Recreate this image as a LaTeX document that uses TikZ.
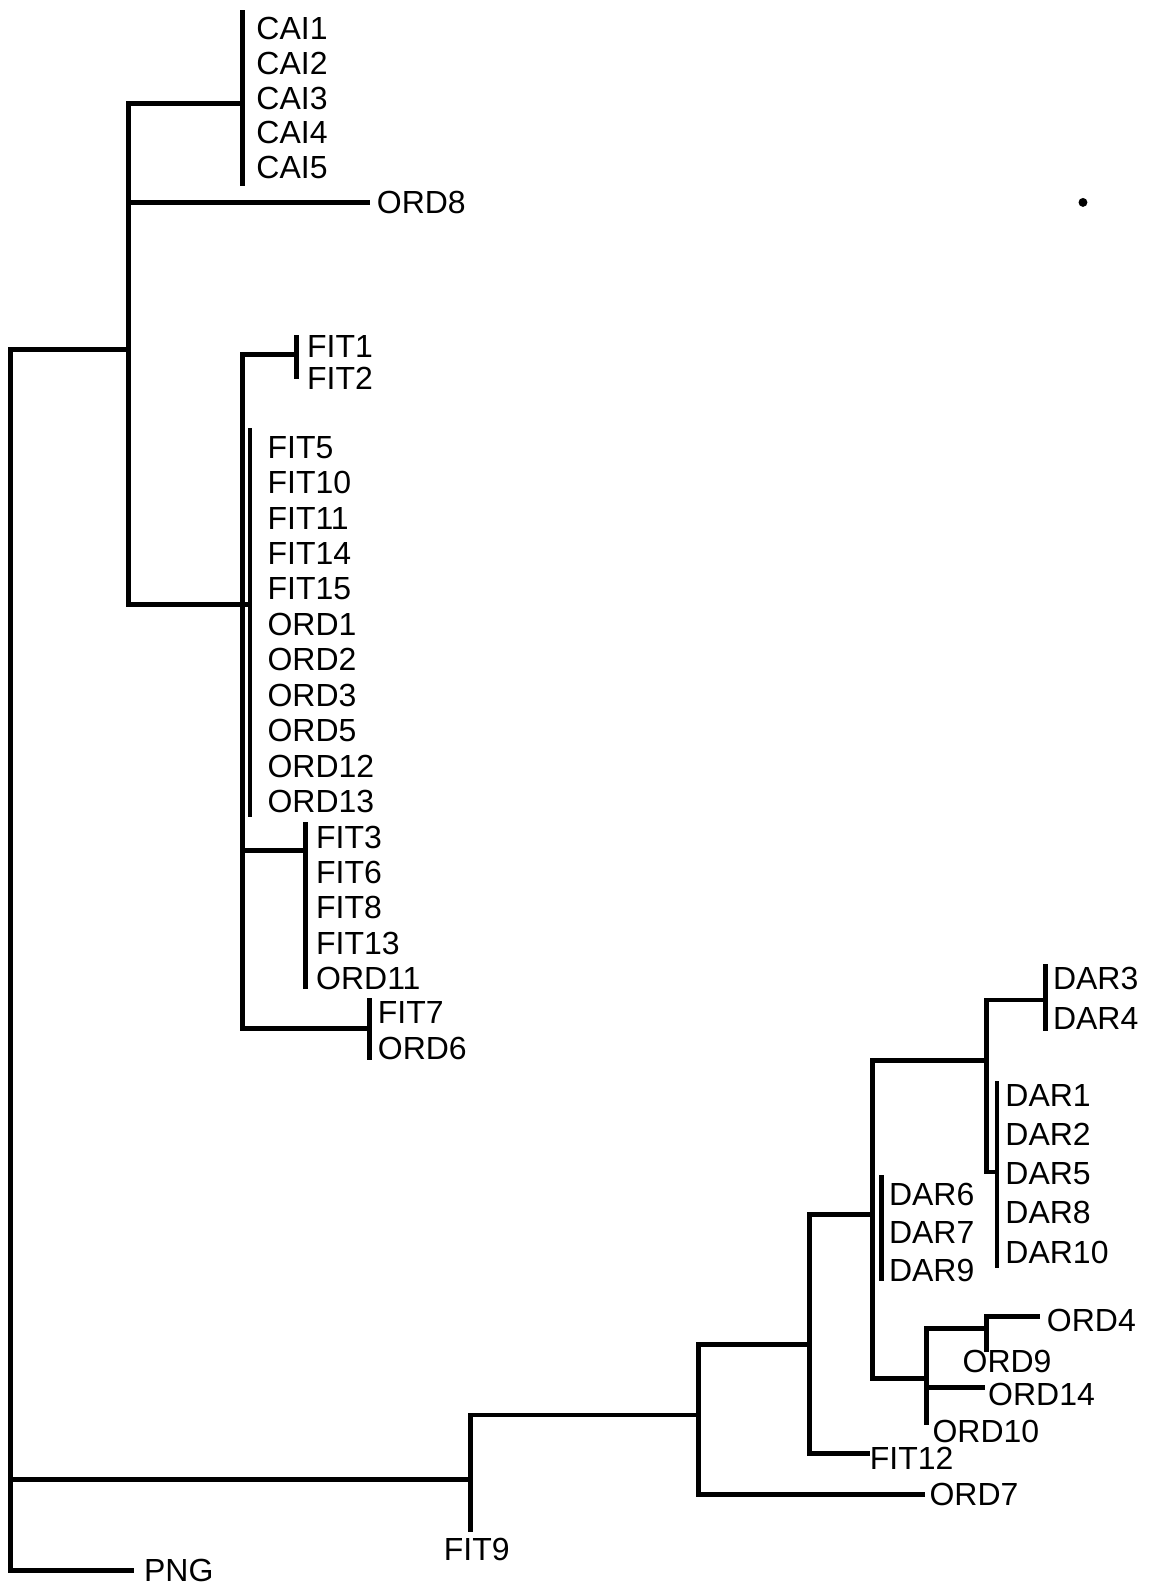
\documentclass[tikz,border=0pt]{standalone}
\usepackage{fontspec}
\setmainfont{Liberation Sans}
\begin{document}
\begin{tikzpicture}[x=0.5pt,y=-0.5pt,
  br/.style={line width=2.4pt, line cap=rect},
  lab/.style={anchor=west, inner sep=0pt, font=\fontsize{15.8}{18}\selectfont},
  clab/.style={anchor=center, inner sep=0pt, font=\fontsize{15.8}{18}\selectfont}]
\useasboundingbox (0,0) rectangle (1140,1568);
% ---------- coordinates of internal nodes ----------
\coordinate (rt) at (10,345);
\coordinate (rc) at (10,1462);
\coordinate (rb) at (10,1552);
\coordinate (a1) at (127,102);
\coordinate (a2) at (127,597);
\coordinate (ar) at (127,345);
\coordinate (ao) at (127,200);
\coordinate (caiT) at (240,12);
\coordinate (caiB) at (240,181);
\coordinate (caiM) at (240,102);
\coordinate (b1) at (240,350);
\coordinate (b2) at (240,1016);
\coordinate (b3) at (240,840);
\coordinate (bigT) at (247,425);
\coordinate (bigB) at (247,805);
\coordinate (bigM) at (247,597);
\coordinate (f12T) at (293,333);
\coordinate (f12B) at (293,372);
\coordinate (f12M) at (293,350);
\coordinate (f3T) at (302,815);
\coordinate (f3B) at (302,975);
\coordinate (f3M) at (302,840);
\coordinate (f7T) at (365,988);
\coordinate (f7B) at (365,1045);
\coordinate (f7M) at (365,1016);
\coordinate (c1) at (465,1398);
\coordinate (c2) at (465,1511);
\coordinate (cr) at (465,1462);
\coordinate (d1) at (690,1328);
\coordinate (d2) at (690,1477);
\coordinate (dc) at (690,1398);
\coordinate (e1) at (800,1200);
\coordinate (e2) at (800,1436);
\coordinate (ed) at (800,1328);
\coordinate (f1) at (862,1048);
\coordinate (f2) at (862,1362);
\coordinate (fe) at (862,1200);
\coordinate (d6T) at (871,1163);
\coordinate (d6B) at (871,1263);
\coordinate (g1) at (975,988);
\coordinate (g2) at (975,1158);
\coordinate (gf) at (975,1048);
\coordinate (d1T) at (985,1070);
\coordinate (d1B) at (985,1250);
\coordinate (d1M) at (985,1158);
\coordinate (d3T) at (1033,955);
\coordinate (d3B) at (1033,1016);
\coordinate (d3M) at (1033,988);
\coordinate (h1) at (915,1313);
\coordinate (h2) at (915,1406);
\coordinate (hf) at (915,1362);
\coordinate (h14) at (915,1371);
\coordinate (i1) at (975,1301);
\coordinate (i2) at (975,1333);
\coordinate (ih) at (975,1313);
\coordinate (o4) at (1025,1301);
% ---------- labels ----------
\node[lab] (CAI1) at (253,28) {CAI1};
\node[lab] (CAI2) at (253,63) {CAI2};
\node[lab] (CAI3) at (253,97) {CAI3};
\node[lab] (CAI4) at (253,131) {CAI4};
\node[lab] (CAI5) at (253,165) {CAI5};
\node[lab] (ORD8) at (372,200) {ORD8};
\node[lab] (FIT1) at (303,342) {FIT1};
\node[lab] (FIT2) at (303,374) {FIT2};
\node[lab] (FIT5) at (264,442) {FIT5};
\node[lab] (FIT10) at (264,477) {FIT10};
\node[lab] (FIT11) at (264,512) {FIT11};
\node[lab] (FIT14) at (264,547) {FIT14};
\node[lab] (FIT15) at (264,582) {FIT15};
\node[lab] (ORD1) at (264,617) {ORD1};
\node[lab] (ORD2) at (264,652) {ORD2};
\node[lab] (ORD3) at (264,687) {ORD3};
\node[lab] (ORD5) at (264,722) {ORD5};
\node[lab] (ORD12) at (264,757) {ORD12};
\node[lab] (ORD13) at (264,792) {ORD13};
\node[lab] (FIT3) at (312,827) {FIT3};
\node[lab] (FIT6) at (312,862) {FIT6};
\node[lab] (FIT8) at (312,897) {FIT8};
\node[lab] (FIT13) at (312,932) {FIT13};
\node[lab] (ORD11) at (312,967) {ORD11};
\node[lab] (FIT7) at (373,1000) {FIT7};
\node[lab] (ORD6) at (373,1036) {ORD6};
\node[lab] (DAR3) at (1040,967) {DAR3};
\node[lab] (DAR4) at (1040,1006) {DAR4};
\node[lab] (DAR1) at (993,1082) {DAR1};
\node[lab] (DAR2) at (993,1121) {DAR2};
\node[lab] (DAR5) at (993,1160) {DAR5};
\node[lab] (DAR8) at (993,1198) {DAR8};
\node[lab] (DAR10) at (993,1237) {DAR10};
\node[lab] (DAR6) at (878,1180) {DAR6};
\node[lab] (DAR7) at (878,1218) {DAR7};
\node[lab] (DAR9) at (878,1255) {DAR9};
\node[lab] (ORD4) at (1034,1305) {ORD4};
\node[clab] (ORD9) at (995,1345) {ORD9};
\node[lab] (ORD14) at (976,1378) {ORD14};
\node[lab] (ORD10) at (921,1414) {ORD10};
\node[lab] (FIT12) at (859,1441) {FIT12};
\node[lab] (ORD7) at (918,1477) {ORD7};
\node[clab] (FIT9) at (471,1531) {FIT9};
\node[lab] (PNG) at (142,1552) {PNG};
% ---------- branches ----------
\draw[br] (rt) -- (rb);
\draw[br] (rt) -- (ar);
\draw[br] (a1) -- (a2);
\draw[br] (a1) -- (caiM);
\draw[br] (caiT) -- (caiB);
\draw[br] (ao) -- (ORD8.west -| 363,0);
\draw[br] (a2) -- (bigM);
\draw[br] (bigT) -- (bigB);
\draw[br] (b1) -- (b2);
\draw[br] (b1) -- (f12M);
\draw[br] (f12T) -- (f12B);
\draw[br] (b3) -- (f3M);
\draw[br] (f3T) -- (f3B);
\draw[br] (b2) -- (f7M);
\draw[br] (f7T) -- (f7B);
\draw[br] (rb) -- (PNG.west -| 130,0);
\draw[br] (rc) -- (cr);
\draw[br] (c1) -- (c2);
\draw[br] (c1) -- (dc);
\draw[br] (d1) -- (d2);
\draw[br] (d2) -- (ORD7.west -| 912,0);
\draw[br] (d1) -- (ed);
\draw[br] (e1) -- (e2);
\draw[br] (e2) -- (857,1436);
\draw[br] (e1) -- (fe);
\draw[br] (f1) -- (f2);
\draw[br] (d6T) -- (d6B);
\draw[br] (f1) -- (gf);
\draw[br] (g1) -- (g2);
\draw[br] (g2) -- (d1M);
\draw[br] (d1T) -- (d1B);
\draw[br] (g1) -- (d3M);
\draw[br] (d3T) -- (d3B);
\draw[br] (f2) -- (hf);
\draw[br] (h1) -- (h2);
\draw[br] (h14) -- (971,1371);
\draw[br] (h1) -- (ih);
\draw[br] (i1) -- (i2);
\draw[br] (i1) -- (o4);
% stray dot
\fill (1070,200) circle (2.2pt);
\end{tikzpicture}
\end{document}
